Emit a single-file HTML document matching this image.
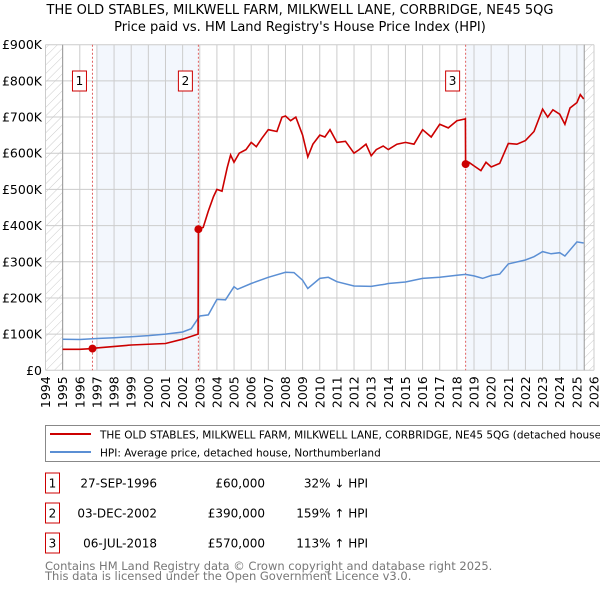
<!DOCTYPE html>
<html><head><meta charset="utf-8"><style>
body{margin:0;background:#fff;font-family:"Liberation Sans","DejaVu Sans",sans-serif}
svg text{font-family:"DejaVu Sans","Liberation Sans",sans-serif}
</style></head><body>
<svg id="c" width="600" height="590" viewBox="0 0 600 590" xmlns="http://www.w3.org/2000/svg">
<defs><pattern id="hatch" width="6" height="6" patternUnits="userSpaceOnUse" patternTransform="rotate(45)"><line x1="0" y1="0" x2="0" y2="6" stroke="#ccc" stroke-width="1"/></pattern></defs>
<text x="300" y="14" text-anchor="middle" font-size="13">THE OLD STABLES, MILKWELL FARM, MILKWELL LANE, CORBRIDGE, NE45 5QG</text>
<text x="300" y="31" text-anchor="middle" font-size="13">Price paid vs. HM Land Registry's House Price Index (HPI)</text>
<g id="plot"></g>
<g>
<rect x="45.5" y="425.5" width="560" height="36" fill="#fff" stroke="#888"/>
<line x1="50" y1="434" x2="91" y2="434" stroke="#cc0000" stroke-width="2"/>
<text x="100" y="438.5" font-size="10.5">THE OLD STABLES, MILKWELL FARM, MILKWELL LANE, CORBRIDGE, NE45 5QG (detached house)</text>
<line x1="50" y1="452" x2="91" y2="452" stroke="#5b8fd4" stroke-width="2"/>
<text x="100" y="456.5" font-size="10.5">HPI: Average price, detached house, Northumberland</text>
</g>
<g id="table"></g>
<text x="45" y="570" font-size="11.5" fill="#777">Contains HM Land Registry data © Crown copyright and database right 2025.</text>
<text x="45" y="580" font-size="11.5" fill="#777">This data is licensed under the Open Government Licence v3.0.</text>
</svg>
<script>
const hpiYears=[1995,1996,1997,1998,1999,2000,2001,2002,2002.5,2003,2003.5,2004,2004.5,2005,2005.2,2006,2007,2008,2008.5,2009,2009.3,2010,2010.5,2011,2012,2013,2013.8,2014,2015,2016,2017,2018,2018.5,2019,2019.5,2020,2020.5,2021,2022,2022.5,2023,2023.5,2024,2024.3,2025,2025.4];
const hpiValues=[86,85,88,90,93,96,100,106,115,150,153,196,195,231,224,240,257,271,270,249,226,254,257,245,233,232,238,240,244,254,257,263,265,261,254,262,266,294,305,314,328,322,325,316,355,352];
const redYears=[1995,1996,1996.74,1997,1999,2001,2002,2002.9,2002.92,2003.2,2003.5,2003.8,2004,2004.3,2004.6,2004.8,2005,2005.3,2005.7,2006,2006.3,2006.6,2007,2007.5,2007.8,2008,2008.3,2008.6,2009,2009.3,2009.6,2010,2010.3,2010.6,2011,2011.5,2012,2012.3,2012.7,2013,2013.3,2013.7,2014,2014.5,2015,2015.5,2016,2016.5,2017,2017.5,2018,2018.5,2018.51,2018.7,2019,2019.4,2019.7,2020,2020.5,2021,2021.5,2022,2022.5,2023,2023.3,2023.6,2024,2024.3,2024.6,2025,2025.2,2025.4];
const redValues=[58,58,60,62,70,74,86,100,390,395,440,480,500,495,560,595,575,600,610,630,618,640,665,660,700,703,690,700,650,590,625,650,645,665,630,633,600,610,625,593,610,620,610,625,630,625,665,645,680,670,690,695,570,575,565,552,575,562,572,627,625,635,660,722,700,720,708,680,725,740,762,750];
const saleYears=[1996.74,2002.92,2018.51];
const saleValues=[60,390,570];
const saleLabels=["1","2","3"];
const saleDates=["27-SEP-1996","03-DEC-2002","06-JUL-2018"];
const salePrices=["£60,000","£390,000","£570,000"];
const saleHpi=["32% ↓ HPI","159% ↑ HPI","113% ↑ HPI"];
const yTicks=[0,100,200,300,400,500,600,700,800,900];
const yTickLabels=["£0","£100K","£200K","£300K","£400K","£500K","£600K","£700K","£800K","£900K"];
const xTicks=[];for(let y=1994;y<=2026;y++)xTicks.push(y);

const X0=45.5,X1=594,Y0=370.3,Y1=44.7;
const xs=y=>X0+(y-1994)/32*(X1-X0);
const ys=v=>Y0-v/900*(Y0-Y1);
const NS="http://www.w3.org/2000/svg";
const plot=document.getElementById('plot');
function mk(tag,attrs,parent){const e=document.createElementNS(NS,tag);for(const k in attrs)e.setAttribute(k,attrs[k]);(parent||plot).appendChild(e);return e;}
let b=mk('rect',{x:xs(1996.96),y:Y1,width:xs(saleYears[1])-xs(1996.96),height:Y0-Y1,fill:'#eef3fc',opacity:0.7});


b=mk('rect',{x:xs(saleYears[2]),y:Y1,width:xs(2025.43)-xs(saleYears[2]),height:Y0-Y1,fill:'#eef3fc',opacity:0.7});


b=mk('rect',{x:X0,y:Y1,width:xs(1995)-X0,height:Y0-Y1,fill:'url(#hatch)'});


b=mk('rect',{x:xs(2025.43),y:Y1,width:X1-xs(2025.43),height:Y0-Y1,fill:'url(#hatch)'});


xTicks.forEach(t=>{const l=mk('line',{x1:xs(t),x2:xs(t),y1:Y1,y2:Y0,stroke:'#ccc','stroke-width':1});


const tx=mk('text',{x:0,y:0,'font-size':12.5,'text-anchor':'end',transform:`translate(${xs(t)+4.5},${Y0+6}) rotate(-90)`});tx.textContent=t;

});
yTicks.forEach((t,i)=>{const l=mk('line',{x1:X0,x2:X1,y1:ys(t),y2:ys(t),stroke:'#ccc','stroke-width':1});


const tx=mk('text',{x:42,y:ys(t)+4.5,'font-size':12.5,'text-anchor':'end'});tx.textContent=yTickLabels[i];

});
let a=mk('line',{x1:xs(1995),x2:xs(1995),y1:Y1,y2:Y0,stroke:'#999'});


a=mk('line',{x1:xs(2025.43),x2:xs(2025.43),y1:Y1,y2:Y0,stroke:'#999'});


saleYears.forEach((s,i)=>{const l=mk('line',{x1:xs(s),x2:xs(s),y1:Y1,y2:Y0,stroke:'#e06060','stroke-dasharray':'2,2'});


const r=mk('rect',{x:xs(s)-20,y:71,width:14,height:20,fill:'#fff',stroke:'#cc0000'});


const t=mk('text',{x:xs(s)-13,y:85,'font-size':12,'text-anchor':'middle'});t.textContent=saleLabels[i];

});
const pts=(xa,va)=>xa.map((y,i)=>xs(y).toFixed(1)+','+ys(va[i]).toFixed(1)).join(' ');
let p=mk('polyline',{points:pts(hpiYears,hpiValues),fill:'none',stroke:'#5b8fd4','stroke-width':1.5});


p=mk('polyline',{points:pts(redYears,redValues),fill:'none',stroke:'#cc0000','stroke-width':1.6});


saleYears.forEach((s,i)=>{const c=mk('circle',{cx:xs(s),cy:ys(saleValues[i]),r:4,fill:'#cc0000'});

});
const tb=document.getElementById('table');
[483,513,543].forEach((cy,i)=>{
const r=mk('rect',{x:45.5,y:cy-10,width:14,height:20,fill:'#fff',stroke:'#cc0000'},tb);


const vals=[[saleLabels[i],52.5,'middle'],[saleDates[i],157,'end'],[salePrices[i],265,'end'],[saleHpi[i],368,'end']];
vals.forEach(v=>{const t=mk('text',{x:v[1],y:cy+4.5,'font-size':12,'text-anchor':v[2]},tb);t.textContent=v[0];

});
});
</script>
</body></html>
